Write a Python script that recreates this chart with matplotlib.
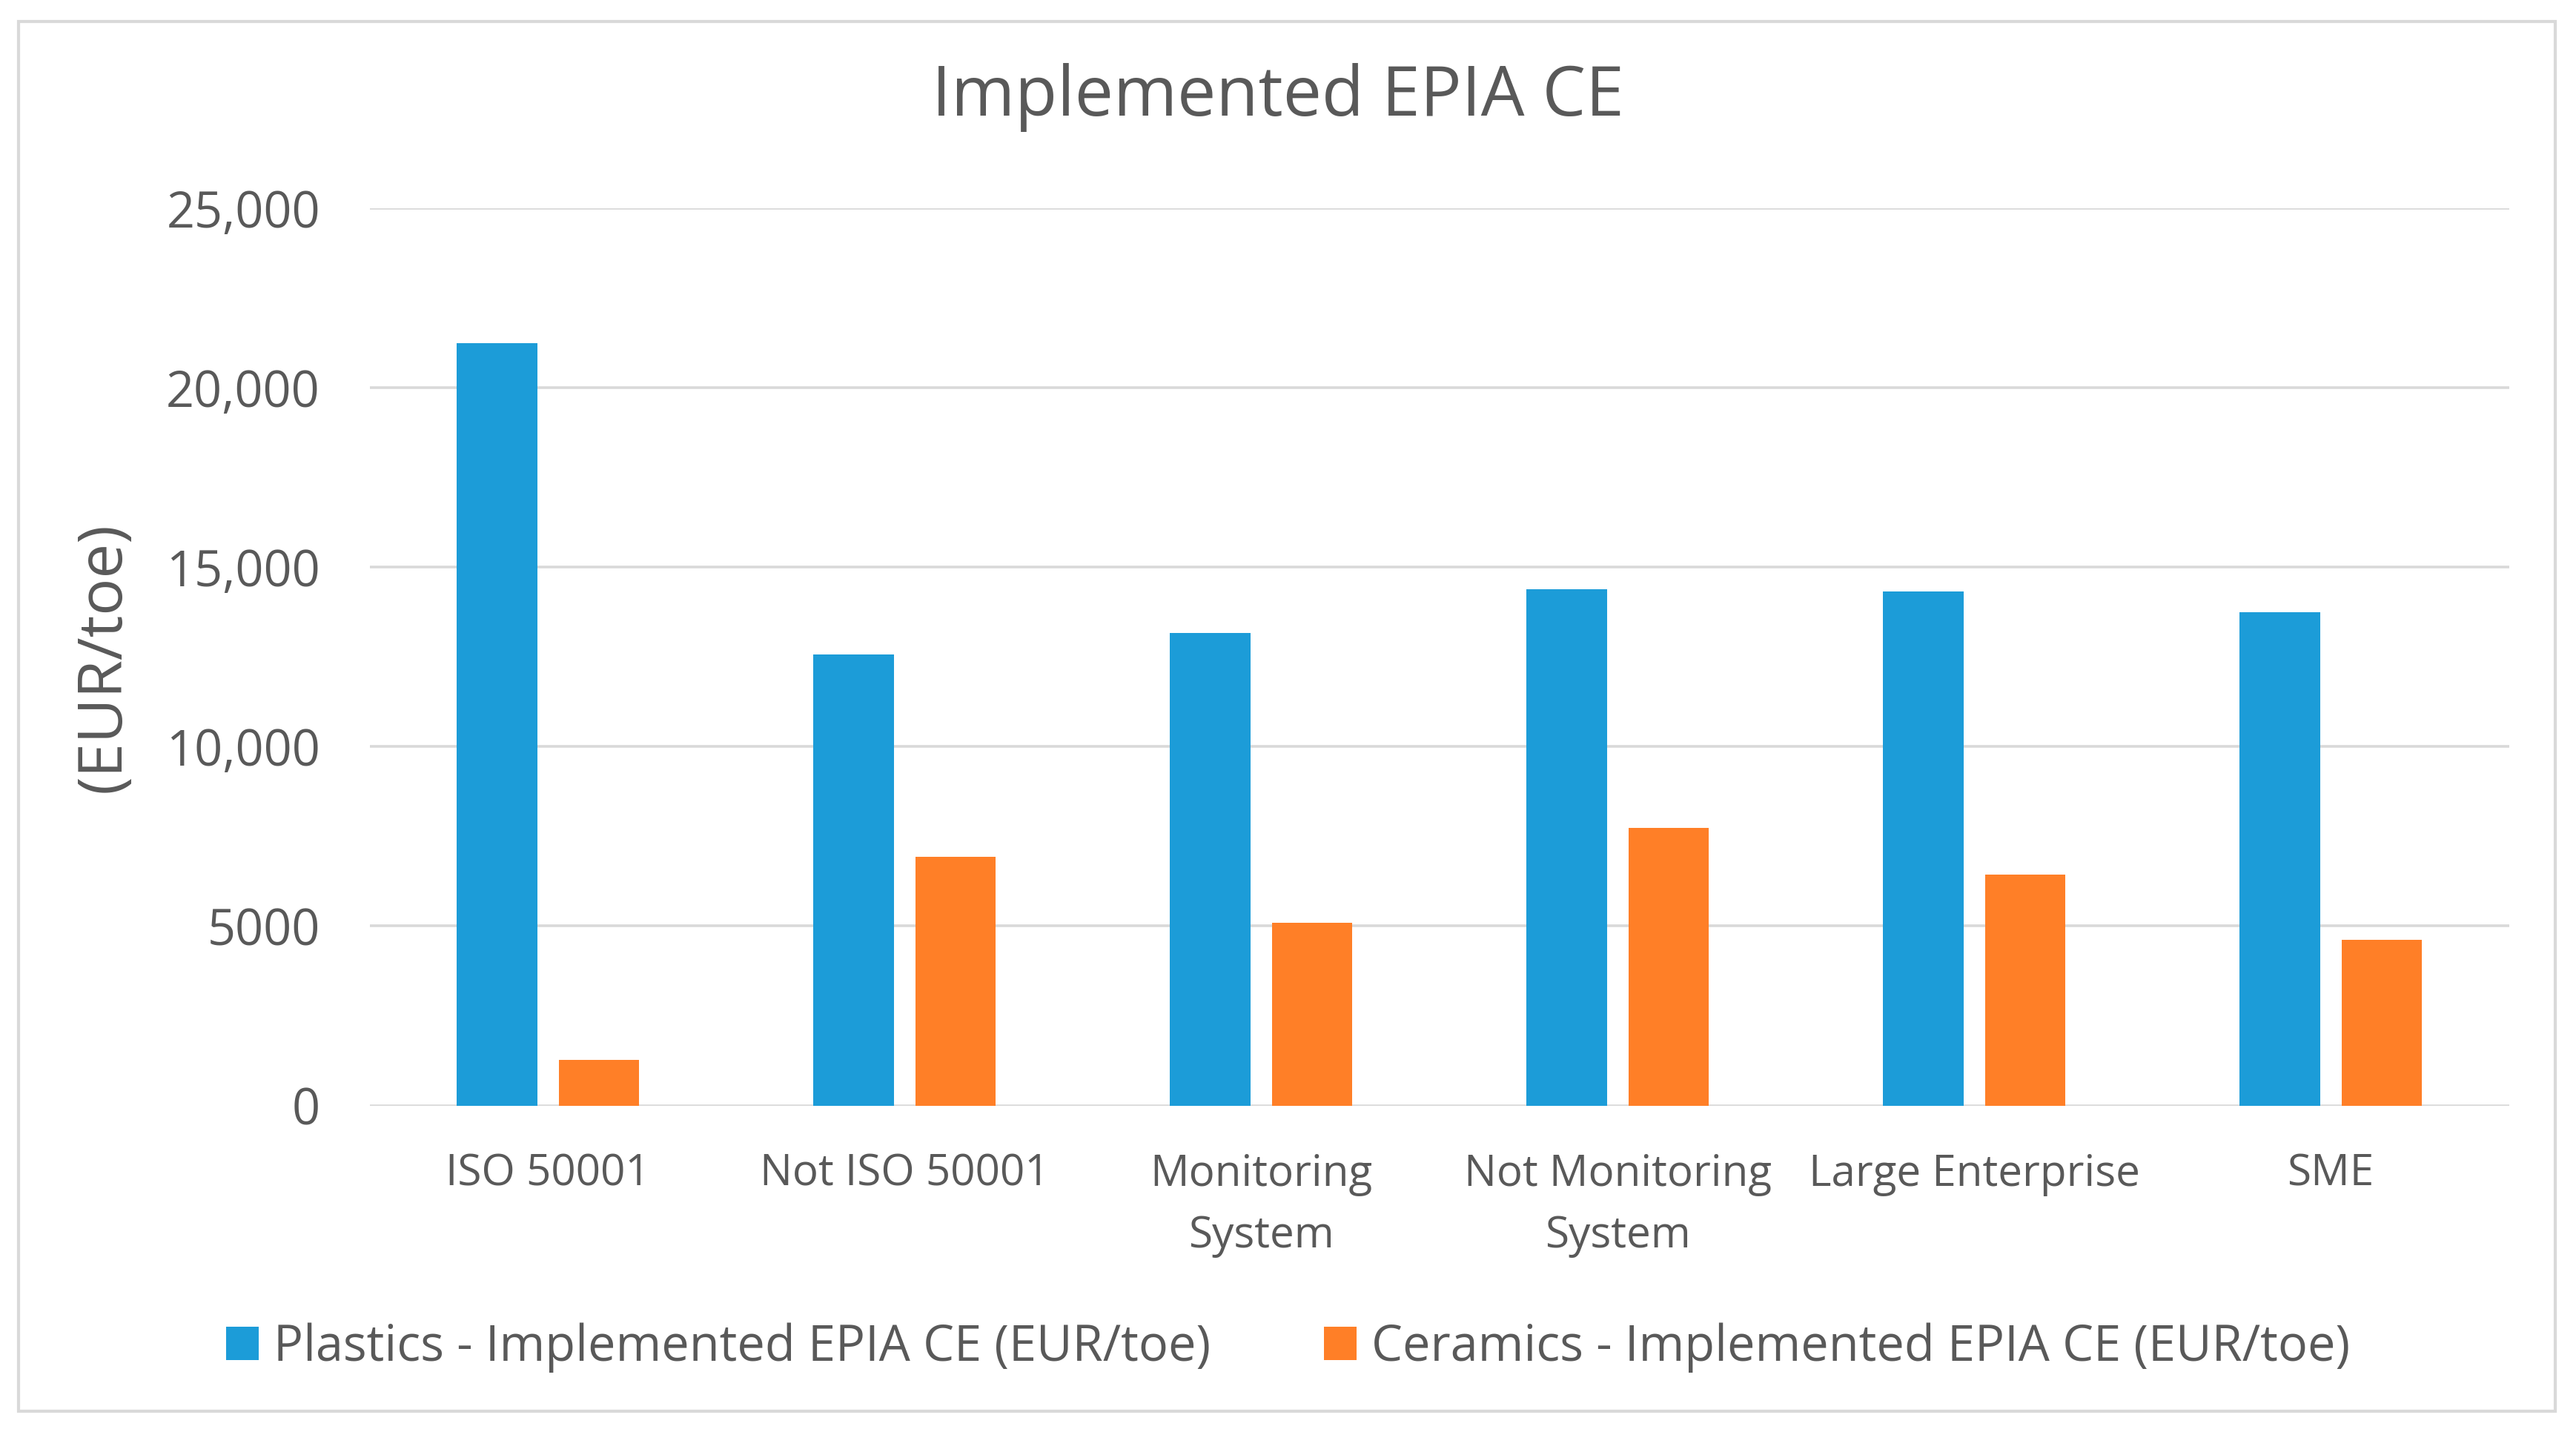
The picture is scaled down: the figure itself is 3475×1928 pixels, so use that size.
import matplotlib
matplotlib.use('Agg')
import matplotlib.pyplot as plt
from matplotlib.patches import Rectangle
from matplotlib.ticker import FuncFormatter
import numpy as np

# data
categories = ['ISO 50001', 'Not ISO 50001', 'Monitoring\nSystem',
              'Not Monitoring\nSystem', 'Large Enterprise', 'SME']
plastics = [21250, 12580, 13180, 14400, 14330, 13750]
ceramics = [1270, 6940, 5100, 7740, 6440, 4620]
series_names = ['Plastics - Implemented EPIA CE (EUR/toe)',
                'Ceramics - Implemented EPIA CE (EUR/toe)']

blue = '#1C9CD8'
orange = '#FF7F27'
text_col = '#595959'
grid_col = '#D9D9D9'

plt.rcParams['font.family'] = ['Open Sans', 'DejaVu Sans']

fig = plt.figure(figsize=(17.375, 9.64), dpi=200)
ax = fig.add_axes([0.1435, 0.2264, 0.8305, 0.6276])

x = np.arange(len(categories))
w = 0.226
off = 0.143
ax.bar(x - off, plastics, w, color=blue, label=series_names[0], zorder=3)
ax.bar(x + off, ceramics, w, color=orange, label=series_names[1], zorder=3)

ax.set_xlim(-0.5, len(categories) - 0.5)
ax.set_ylim(0, 25000)
ax.set_yticks(np.arange(0, 25001, 5000))


def fmt(v, pos):
    v = int(v)
    if v >= 10000:
        return '{:,}'.format(v)
    return str(v)


ax.yaxis.set_major_formatter(FuncFormatter(fmt))
ax.set_xticks(x)
ax.set_xticklabels(categories, linespacing=1.55)
ax.tick_params(axis='both', length=0, labelcolor=text_col)
ax.tick_params(axis='y', pad=24, labelsize=24)
ax.tick_params(axis='x', pad=23, labelsize=21)
for t in ax.get_xticklabels():
    t.set_verticalalignment('top')

ax.grid(axis='y', color=grid_col, linewidth=1.3, zorder=0)
for s in ax.spines.values():
    s.set_visible(False)

fig.text(0.496, 0.932, 'Implemented EPIA CE', ha='center', va='center',
         fontsize=33.5, color=text_col)
fig.text(0.0405, 0.540, '(EUR/toe)', ha='center', va='center', rotation=90,
         fontsize=30, color=text_col)

leg = fig.legend(loc='center', bbox_to_anchor=(0.5, 0.057), ncol=2,
                 frameon=False, fontsize=24, handlelength=0.65,
                 handleheight=0.65, handletextpad=0.3, columnspacing=2.3)
for t in leg.get_texts():
    t.set_color(text_col)

# outer chart border
fig.patches.append(Rectangle((0.0072, 0.0125), 0.9848, 0.9725,
                             transform=fig.transFigure, fill=False,
                             edgecolor=grid_col, linewidth=1.5))

fig.savefig('out.png', dpi=200)
